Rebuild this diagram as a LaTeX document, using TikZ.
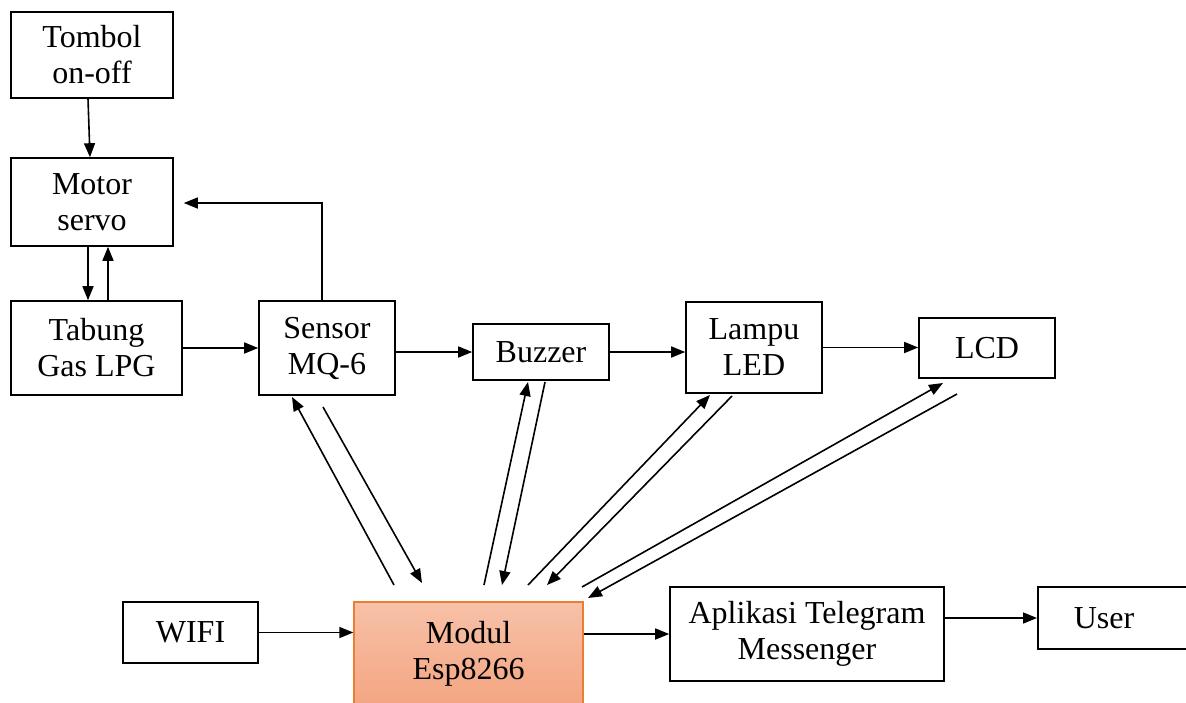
\documentclass[tikz,border=0pt]{standalone}
\usepackage{fontspec}
\setmainfont{Liberation Serif}
\usetikzlibrary{arrows.meta,calc}
\definecolor{espTop}{RGB}{247,193,168}
\definecolor{espBot}{RGB}{244,165,129}
\definecolor{espLine}{RGB}{237,125,49}
\tikzset{
  blk/.style={draw=black, line width=1.6pt, rectangle, align=center, inner sep=0pt,
    font=\fontsize{32}{36}\selectfont},
  arr/.style={line width=1.6pt, -{Triangle[length=14pt,width=11pt]}},
  esp/.style={blk, draw=espLine, line width=1.4pt, top color=espTop, bottom color=espBot}
}
\begin{document}
\begin{tikzpicture}[x=1pt,y=-1pt]
\useasboundingbox (0,0) rectangle (1186,702);

% blocks of the system
\node[blk, minimum width=162, minimum height=86] (tombol) at (92,55) {Tombol\\on-off};
\node[blk, minimum width=162, minimum height=88] (motor) at (92,202) {Motor\\servo};
\node[blk, minimum width=171, minimum height=94] (tabung) at (96.5,348) {Tabung\\Gas LPG};
\node[blk, minimum width=136, minimum height=94] (sensor) at (327,348) {Sensor\\MQ-6};
\node[blk, minimum width=136, minimum height=56] (buzzer) at (541,352) {Buzzer};
\node[blk, minimum width=136, minimum height=91] (lampu) at (754,347.5) {Lampu\\LED};
\node[blk, minimum width=136, minimum height=60] (lcd) at (987,348) {LCD};
\node[blk, minimum width=135, minimum height=61] (wifi) at (190.5,632.5) {WIFI};
\node[esp, minimum width=229, minimum height=104] (modul) at (468.5,654) {Modul\\Esp8266};
\node[blk, minimum width=274, minimum height=94] (apl) at (807,634) {Aplikasi Telegram\\Messenger};
\node[blk, anchor=west, minimum height=62, text width=110pt, align=left, inner xsep=36pt]
  (user) at (1037,618) {User};

% control chain around the servo
\draw[arr] ([xshift=-4pt]tombol.south) -- ([xshift=-2pt]motor.north);
\draw[arr] ([xshift=-4pt]motor.south) -- ([xshift=-4pt]motor.south |- tabung.north);
\draw[arr] ([xshift=16pt]motor.south |- tabung.north) -- ([xshift=16pt]motor.south);
\draw[arr] (tabung.east) -- (sensor.west);
\draw[arr] ([xshift=-5pt]sensor.north) |- ([xshift=10pt,yshift=-1pt]motor.east);

% signal chain of the outputs
\draw[arr] (sensor.east |- buzzer.west) -- (buzzer.west);
\draw[arr] (buzzer.east) -- (buzzer.east -| lampu.west);
\draw[arr] (lampu.east) -- (lampu.east -| lcd.west);

% bottom row
\draw[arr] (wifi.east) -- (wifi.east -| modul.west);
\draw[arr] (apl.west -| modul.east) -- (apl.west);
\draw[arr] (apl.east |- user.west) -- (user.west);

% links between the ESP8266 and the peripherals
\coordinate (s1) at (394,585); \coordinate (s1t) at (292,397);
\coordinate (s2) at (323,407); \coordinate (s2t) at (422,583);
\coordinate (b1) at (484,585); \coordinate (b1t) at (528,382);
\coordinate (b2) at (545,382); \coordinate (b2t) at (502,585);
\coordinate (l1) at (528,585); \coordinate (l1t) at (710,395);
\coordinate (l2) at (732,396); \coordinate (l2t) at (547,585);
\coordinate (c1) at (582,587); \coordinate (c1t) at (943,383);
\coordinate (c2) at (957,394); \coordinate (c2t) at (588,598);
\draw[arr] (s1) -- (s1t);
\draw[arr] (s2) -- (s2t);
\draw[arr] (b1) -- (b1t);
\draw[arr] (b2) -- (b2t);
\draw[arr] (l1) -- (l1t);
\draw[arr] (l2) -- (l2t);
\draw[arr] (c1) -- (c1t);
\draw[arr] (c2) -- (c2t);
\end{tikzpicture}
\end{document}
